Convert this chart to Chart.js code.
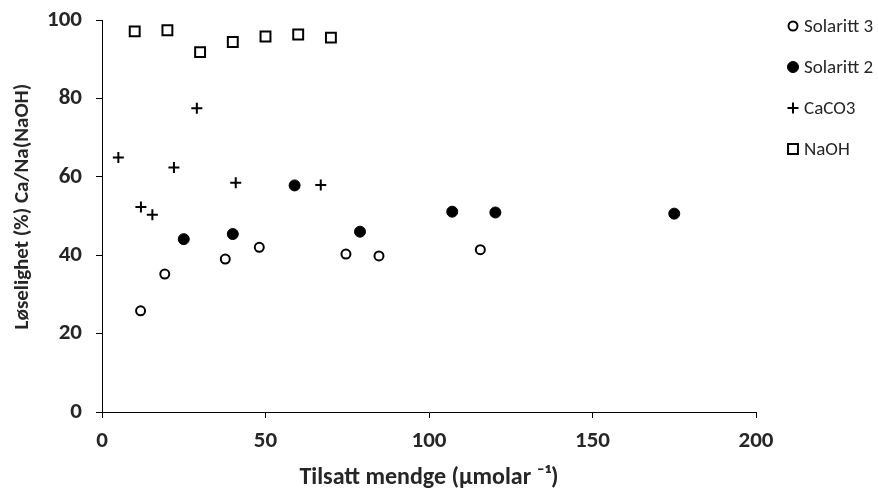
<!DOCTYPE html>
<html>
<head>
<meta charset="utf-8">
<style>
  html, body { margin: 0; padding: 0; background: #fff; }
</style>
</head>
<body>
<canvas id="chart" width="878" height="495"></canvas>

<script src="https://cdn.jsdelivr.net/npm/chart.js"></script>
<script>
    // values
    const seriesNames = ["Solaritt 3", "Solaritt 2", "CaCO3", "NaOH"];

    const solaritt3X = [11.8, 19.2, 37.7, 48.1, 74.6, 84.7, 115.7];
    const solaritt3Y = [25.8, 35.2, 39.0, 42.0, 40.3, 39.8, 41.4];

    const solaritt2X = [25.0, 40.0, 58.9, 78.9, 107.1, 120.3, 175.0];
    const solaritt2Y = [44.1, 45.4, 57.8, 46.0, 51.1, 50.9, 50.6];

    const caco3X = [5.0, 11.9, 15.4, 22.0, 29.0, 40.9, 66.9];
    const caco3Y = [64.9, 52.3, 50.3, 62.4, 77.5, 58.5, 57.9];

    const naohX = [10, 20, 30, 40, 50, 60, 70];
    const naohY = [97.1, 97.4, 91.8, 94.4, 95.8, 96.3, 95.5];

    const xTicks = [0, 50, 100, 150, 200];
    const yTicks = [0, 20, 40, 60, 80, 100];

    const fontFamily = "Carlito, Lato, 'Liberation Sans', sans-serif";
    const textColor = "#262626";

    function toPoints(xs, ys) {
        return xs.map((x, i) => ({ x: x, y: ys[i] }));
    }

    // legend drawn by hand so the entries sit where the reference has them
    const sideLegend = {
        id: "sideLegend",
        afterDraw(chart) {
            const ctx = chart.ctx;
            const left = chart.chartArea.right + 37;
            ctx.save();
            chart.data.datasets.forEach((ds, i) => {
                const y = 26 + i * 41;
                ctx.fillStyle = ds.backgroundColor;
                ctx.strokeStyle = ds.borderColor;
                ctx.lineWidth = ds.borderWidth;
                Chart.helpers.drawPoint(ctx, {
                    pointStyle: ds.pointStyle,
                    radius: ds.pointRadius,
                    borderWidth: ds.borderWidth,
                    rotation: 0
                }, left, y);
                ctx.fillStyle = textColor;
                ctx.font = "19px " + fontFamily;
                ctx.textBaseline = "middle";
                ctx.textAlign = "left";
                ctx.fillText(ds.label, left + 11, y + 1);
            });
            ctx.restore();
        }
    };

    const ctx = document.getElementById("chart").getContext("2d");
    new Chart(ctx, {
        type: "scatter",
        data: {
            datasets: [
                {
                    label: seriesNames[0],
                    data: toPoints(solaritt3X, solaritt3Y),
                    pointStyle: "circle",
                    pointRadius: 4.5,
                    borderWidth: 2,
                    backgroundColor: "#ffffff",
                    borderColor: "#000000"
                },
                {
                    label: seriesNames[1],
                    data: toPoints(solaritt2X, solaritt2Y),
                    pointStyle: "circle",
                    pointRadius: 5.5,
                    borderWidth: 1,
                    backgroundColor: "#000000",
                    borderColor: "#000000"
                },
                {
                    label: seriesNames[2],
                    data: toPoints(caco3X, caco3Y),
                    pointStyle: "cross",
                    pointRadius: 5.5,
                    borderWidth: 2,
                    backgroundColor: "#000000",
                    borderColor: "#000000"
                },
                {
                    label: seriesNames[3],
                    data: toPoints(naohX, naohY),
                    pointStyle: "rect",
                    pointRadius: 7,
                    borderWidth: 2,
                    backgroundColor: "#ffffff",
                    borderColor: "#000000"
                }
            ]
        },
        options: {
            responsive: false,
            animation: false,
            events: [],
            layout: {
                padding: { top: 20, right: 122, bottom: 0, left: 0 }
            },
            plugins: {
                legend: { display: false },
                tooltip: { enabled: false }
            },
            scales: {
                x: {
                    type: "linear",
                    min: 0,
                    max: 200,
                    afterBuildTicks: s => { s.ticks = xTicks.map(v => ({ value: v })); },
                    afterFit: s => { s.height = 83; },
                    border: { display: true, color: "#000000", width: 1 },
                    grid: {
                        drawOnChartArea: false,
                        drawTicks: true,
                        tickLength: 6,
                        color: "#000000"
                    },
                    ticks: {
                        color: textColor,
                        padding: 9,
                        font: { family: fontFamily, size: 23, weight: "bold" }
                    },
                    title: {
                        display: true,
                        text: "Tilsatt mendge (µmolar ⁻¹)",
                        color: textColor,
                        padding: { top: 0, bottom: 3 },
                        font: { family: fontFamily, size: 24, weight: "bold" }
                    }
                },
                y: {
                    type: "linear",
                    min: 0,
                    max: 100,
                    afterBuildTicks: s => { s.ticks = yTicks.map(v => ({ value: v })); },
                    afterFit: s => {
                        s.width = 102;
                        s.paddingTop = 0;
                        s.paddingBottom = 0;
                    },
                    border: { display: true, color: "#000000", width: 1 },
                    grid: {
                        drawOnChartArea: false,
                        drawTicks: true,
                        tickLength: 6,
                        color: "#000000"
                    },
                    ticks: {
                        color: textColor,
                        padding: 14,
                        font: { family: fontFamily, size: 23, weight: "bold" }
                    },
                    title: {
                        display: true,
                        text: "    Løselighet (%) Ca/Na(NaOH)",
                        color: textColor,
                        padding: { top: 10, bottom: 0 },
                        font: { family: fontFamily, size: 21, weight: "bold" }
                    }
                }
            }
        },
        plugins: [sideLegend]
    });
</script>
</body>
</html>
